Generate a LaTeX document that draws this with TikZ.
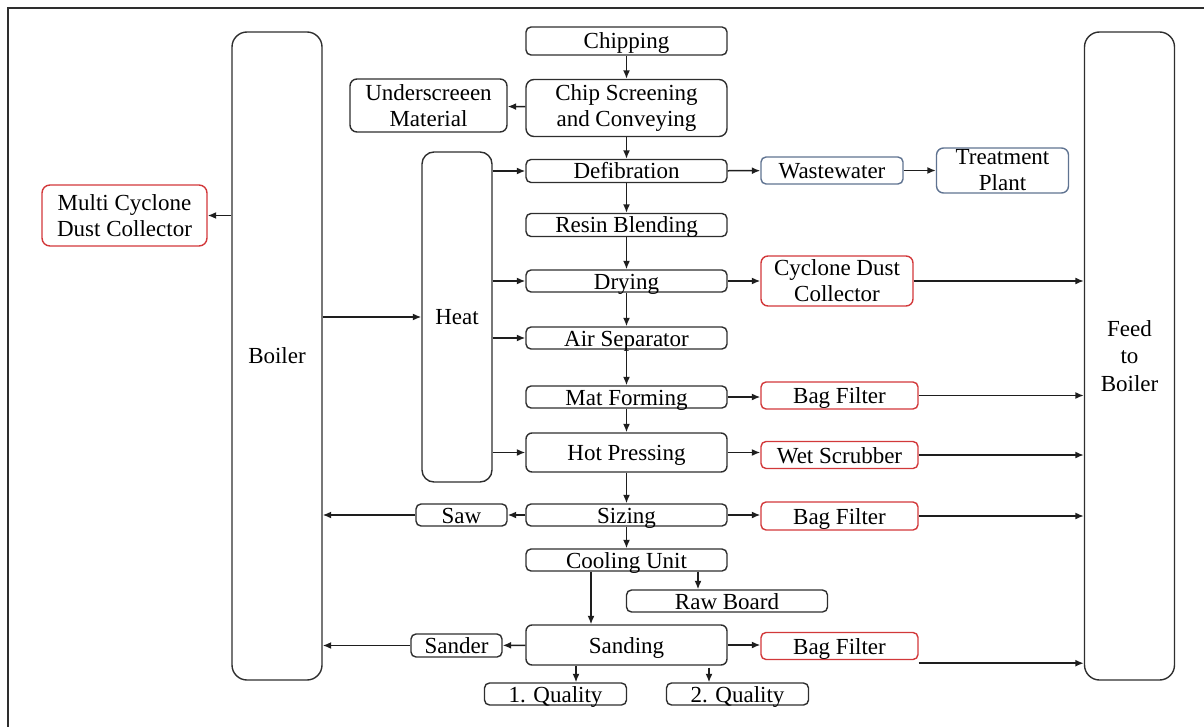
\documentclass[tikz,border=0pt]{standalone}
\usepackage{fontspec}
\setmainfont{Liberation Serif}
\usetikzlibrary{arrows.meta}
\definecolor{boxc}{HTML}{2E2E2E}
\definecolor{redc}{HTML}{D2383A}
\definecolor{bluec}{HTML}{5F7391}
\definecolor{linec}{HTML}{1E1E1E}
\newcommand{\fs}{\rmfamily\fontsize{23}{26}\selectfont}
\tikzset{
  box/.style={draw=boxc, line width=1.4pt, rounded corners=5pt, inner sep=0pt, align=center, font=\fs},
  one/.style={text height=19pt, text depth=3pt},
  redbox/.style={box, draw=redc},
  bluebox/.style={box, draw=bluec},
  arr/.style={draw=linec, line width=1.5pt, -{Latex[length=8.5pt,width=7pt]}},
}
\begin{document}
\begin{tikzpicture}[x=1pt,y=-1pt]
\useasboundingbox (0,0) rectangle (1204,727);
\draw[draw=boxc, line width=1.6pt] (8,727) -- (8,8) -- (1204,8);

% main column
\node[box,one, minimum width=201, minimum height=28] (chip) at (626.5,41) {Chipping};
\node[box, rounded corners=8pt, minimum width=201, minimum height=57] (screen) at (626.5,108) {Chip Screening\\and Conveying};
\node[box, rounded corners=7pt, minimum width=157, minimum height=53] (under) at (428.5,105.5) {Underscreeen\\Material};
\node[box, rounded corners=12pt, minimum width=70, minimum height=330] (heat) at (457,317) {Heat};
\node[box,one, minimum width=201, minimum height=23] (defib) at (626.5,171) {Defibration};
\node[bluebox,one, minimum width=142, minimum height=27] (waste) at (832,170.5) {Wastewater};
\node[bluebox, rounded corners=7pt, minimum width=132, minimum height=45] (treat) at (1002.5,170.5) {Treatment\\Plant};
\node[box,one, minimum width=201, minimum height=23] (resin) at (626.5,225) {Resin Blending};
\node[box,one, minimum width=201, minimum height=22] (drying) at (626.5,281) {Drying};
\node[redbox, rounded corners=7pt, minimum width=152, minimum height=50] (cyclone) at (837,281) {Cyclone Dust\\Collector};
\node[box,one, minimum width=201, minimum height=22] (airsep) at (626.5,338) {Air Separator};
\node[box,one, minimum width=201, minimum height=22] (mat) at (626.5,397) {Mat Forming};
\node[redbox,one, minimum width=157, minimum height=27] (bfa) at (839.5,395.5) {Bag Filter};
\node[box,one, rounded corners=6pt, minimum width=201, minimum height=39] (hot) at (626.5,452.5) {Hot Pressing};
\node[redbox,one, minimum width=157, minimum height=27] (wet) at (839.5,455) {Wet Scrubber};
\node[box,one, minimum width=201, minimum height=22] (sizing) at (626.5,515) {Sizing};
\node[box,one, minimum width=91, minimum height=22] (saw) at (461.5,515) {Saw};
\node[redbox,one, minimum width=157, minimum height=28] (bfb) at (839.5,516) {Bag Filter};
\node[box,one, minimum width=201, minimum height=22] (cool) at (626.5,560) {Cooling Unit};
\node[box,one, minimum width=201, minimum height=22] (raw) at (727,601) {Raw Board};
\node[box,one, rounded corners=6pt, minimum width=201, minimum height=40] (sanding) at (626.5,645) {Sanding};
\node[box,one, minimum width=91, minimum height=23] (sander) at (456.5,645.5) {Sander};
\node[redbox,one, minimum width=157, minimum height=27] (bfc) at (839.5,646) {Bag Filter};
\node[box,one, minimum width=142, minimum height=22] (qa) at (555.5,694) {1. Quality};
\node[box,one, minimum width=142, minimum height=22] (qb) at (737.5,694) {2. Quality};
\node[box, rounded corners=15pt, minimum width=90, minimum height=648] (boiler) at (277,356) {Boiler};
\node[box, rounded corners=15pt, minimum width=90, minimum height=648, font=\rmfamily\fontsize{23}{27.5}\selectfont] (feed) at (1129.5,356) {Feed\\to\\Boiler};
\node[redbox, rounded corners=8pt, minimum width=165, minimum height=61] (multi) at (124.5,215.5) {Multi Cyclone\\Dust Collector};

% vertical flow
\draw[arr] (chip) -- (screen);
\draw[arr] (screen) -- (defib);
\draw[arr] (defib) -- (resin);
\draw[arr] (resin) -- (drying);
\draw[arr] (drying) -- (airsep);
\draw[arr] (airsep) -- (mat);
\draw[arr] (mat) -- (hot);
\draw[arr] (hot) -- (sizing);
\draw[arr] (sizing) -- (cool);
\draw[arr] ([xshift=-35.5pt]cool.south) -- ([xshift=-35.5pt]sanding.north);
\draw[arr] ([xshift=71.5pt]cool.south) -- ([xshift=71.5pt]cool.south |- raw.north);
\draw[arr] ([xshift=-50.5pt]sanding.south) -- ([xshift=-50.5pt]sanding.south |- qa.north);
\draw[arr] ([xshift=82.5pt,yshift=-2pt]sanding.south) -- ([xshift=82.5pt]sanding.south |- qb.north);

% left side
\draw[arr] (screen) -- (under);
\draw[arr] (boiler.west |- multi.east) -- (multi.east);
\draw[arr] (boiler.east |- heat.west) -- (heat.west);
\draw[arr] (heat.east |- defib.west) -- (defib.west);
\draw[arr] (heat.east |- drying.west) -- (drying.west);
\draw[arr] (heat.east |- airsep.west) -- (airsep.west);
\draw[arr] (heat.east |- hot.west) -- (hot.west);
\draw[arr] (sizing) -- (saw);
\draw[arr] (saw.west) -- (saw.west -| boiler.east);
\draw[arr] (sanding) -- (sander);
\draw[arr] (sander.west) -- (sander.west -| boiler.east);

% right side
\draw[arr] (defib) -- (waste);
\draw[arr] (waste) -- (treat.west |- waste.east);
\draw[arr] (drying) -- (drying.east -| cyclone.west);
\draw[arr] (cyclone.east) -- (cyclone.east -| feed.west);
\draw[arr] (mat) -- (mat.east -| bfa.west);
\draw[arr] (bfa.east) -- (bfa.east -| feed.west);
\draw[arr] (hot) -- (hot.east -| wet.west);
\draw[arr] (wet.east) -- (wet.east -| feed.west);
\draw[arr] (sizing) -- (sizing.east -| bfb.west);
\draw[arr] (bfb.east) -- (bfb.east -| feed.west);
\draw[arr] (sanding) -- (sanding.east -| bfc.west);
\draw[arr] ([yshift=-3pt]bfc.south east) -- ([yshift=-3pt]bfc.south east -| feed.west);
\end{tikzpicture}
\end{document}
